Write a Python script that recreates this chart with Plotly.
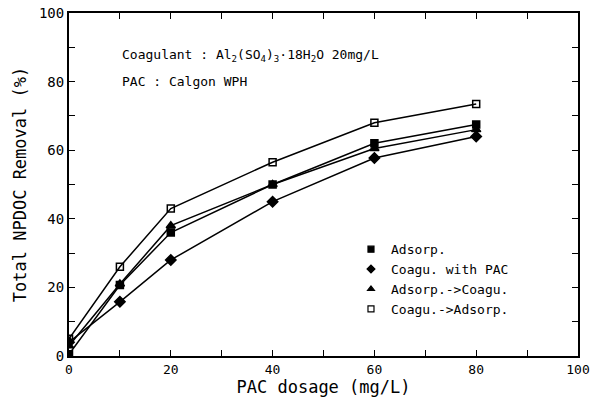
import plotly.graph_objects as go

dosage = [0, 10, 20, 40, 60, 80]
adsorp = [0.5, 20.7, 36, 50, 62, 67.5]
coagu_pac = [4, 15.8, 28, 45, 57.7, 64]
adsorp_coagu = [3, 21, 38, 50, 60.5, 66]
coagu_adsorp = [5, 26, 43, 56.5, 68, 73.5]

series = [
    ("Adsorp.", adsorp, "square", 7),
    ("Coagu. with PAC", coagu_pac, "diamond", 8),
    ("Adsorp.->Coagu.", adsorp_coagu, "triangle-up", 8),
    ("Coagu.->Adsorp.", coagu_adsorp, "square-open", 7),
]

FONT = "DejaVu Sans Mono, Liberation Mono, monospace"

fig = go.Figure()
for name, vals, sym, sz in series:
    fig.add_trace(go.Scatter(
        x=dosage, y=vals, mode="lines+markers", name=name, showlegend=False,
        line=dict(color="black", width=1.5),
        marker=dict(symbol=sym, size=sz, color="black",
                    line=dict(color="black", width=1.5)),
    ))
for name, vals, sym, sz in series:
    fig.add_trace(go.Scatter(
        x=[None], y=[None], mode="markers", name=name,
        marker=dict(symbol=sym, size=6, color="black",
                    line=dict(color="black", width=1.2)),
    ))

axis_common = dict(
    range=[0, 100], dtick=20, showline=True, linecolor="black", linewidth=2,
    mirror="ticks", ticks="inside", ticklen=6, tickcolor="black", tickwidth=1.2,
    showgrid=False, zeroline=False, automargin=False, ticklabeloverflow="allow",
    minor=dict(ticks="inside", ticklen=6, dtick=10, tickcolor="black", tickwidth=1.2),
    tickfont=dict(family=FONT, size=14, color="black"),
)
fig.update_xaxes(**axis_common,
                 title=dict(text="PAC dosage (mg/L)", font=dict(family=FONT, size=17, color="black"), standoff=4))
fig.update_xaxes(tickfont=dict(size=13))
fig.update_yaxes(**axis_common,
                 title=dict(text="Total NPDOC Removal (%)", font=dict(family=FONT, size=17, color="black"), standoff=8))

fig.add_annotation(x=0.1, y=0.877, xref="paper", yref="paper", xanchor="left", yanchor="middle",
                   text="Coagulant : Al<sub>2</sub>(SO<sub>4</sub>)<sub>3</sub>·18H<sub>2</sub>O 20mg/L",
                   showarrow=False, font=dict(family=FONT, size=13, color="black"))
fig.add_annotation(x=0.1, y=0.80, xref="paper", yref="paper", xanchor="left", yanchor="middle",
                   text="PAC : Calgon WPH",
                   showarrow=False, font=dict(family=FONT, size=13, color="black"))

fig.update_layout(
    width=590, height=405,
    margin=dict(l=69, r=12, t=13, b=49),
    paper_bgcolor="white", plot_bgcolor="white",
    legend=dict(x=0.554, y=0.355, xanchor="left", yanchor="top",
                bgcolor="rgba(0,0,0,0)", font=dict(family=FONT, size=13, color="black"),
                itemwidth=30, tracegroupgap=0),
)

fig.write_html("out.html", config={"displayModeBar": False},
               post_script="document.body.style.margin='0';")
